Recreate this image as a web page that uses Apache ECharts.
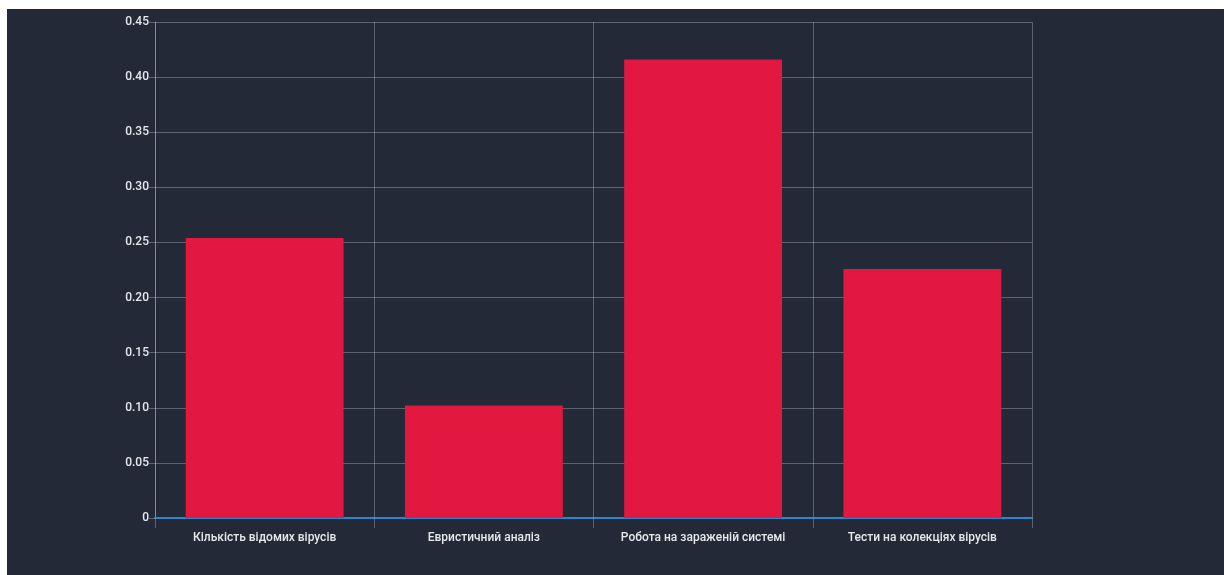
<!DOCTYPE html>
<html>
<head>
<meta charset="utf-8">
<script src="https://cdn.jsdelivr.net/npm/echarts@6/dist/echarts.min.js"></script>
<style>
html,body{margin:0;padding:0;background:#ffffff;width:1224px;height:575px;overflow:hidden;}
#chart{position:absolute;left:7px;top:9px;width:1217px;height:566px;background:#232937;}
</style>
</head>
<body>
<div id="chart"></div>
<script>
const categories = ['Кількість відомих вірусів', 'Евристичний аналіз', 'Робота на зараженій системі', 'Тести на колекціях вірусів'];
const values = [0.254, 0.102, 0.416, 0.226];
const yTickLabels = ['0', '0.05', '0.10', '0.15', '0.20', '0.25', '0.30', '0.35', '0.40', '0.45'];

const chart = echarts.init(document.getElementById('chart'), null, {renderer: 'canvas'});
const font = 'Roboto, "Liberation Sans", sans-serif';
const gridColor = 'rgba(200,210,225,0.35)';
chart.setOption({
  backgroundColor: '#232937',
  animation: false,
  grid: {left: 148, right: 192, top: 13, bottom: 57, containLabel: false},
  xAxis: {
    type: 'category',
    data: categories,
    boundaryGap: true,
    axisLine: {show: true, lineStyle: {color: '#2a86d0', width: 2}},
    axisTick: {show: true, interval: 0, length: 10, lineStyle: {color: gridColor}},
    splitLine: {show: true, interval: 0, lineStyle: {color: gridColor, width: 1}},
    axisLabel: {color: '#e6e8ee', fontFamily: font, fontSize: 12, fontWeight: 500, margin: 14, interval: 0}
  },
  yAxis: {
    type: 'value',
    min: 0, max: 0.45, interval: 0.05,
    axisLine: {show: true, lineStyle: {color: gridColor}},
    axisTick: {show: true, length: 6, lineStyle: {color: gridColor}},
    splitLine: {show: true, lineStyle: {color: gridColor, width: 1}},
    axisLabel: {
      color: '#e6e8ee', fontFamily: font, fontSize: 12, fontWeight: 500, margin: 6,
      formatter: function (v) { return yTickLabels[Math.round(v / 0.05)]; }
    }
  },
  series: [{
    type: 'bar',
    data: values,
    barWidth: '72%',
    itemStyle: {color: '#e31840'}
  }]
});
</script>
</body>
</html>
